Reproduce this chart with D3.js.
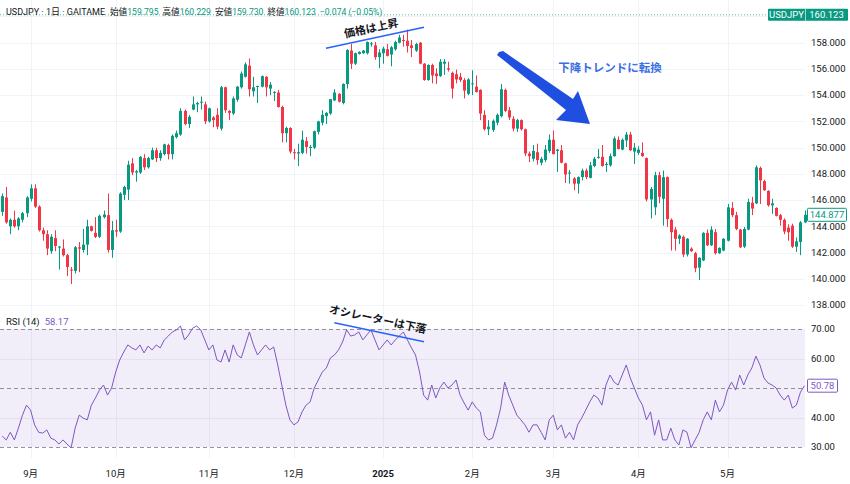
<!DOCTYPE html>
<html><head><meta charset="utf-8">
<script src="https://cdn.jsdelivr.net/npm/d3@7"></script>
<style>
html,body{margin:0;padding:0;background:#fff;}
svg{display:block;font-family:Roboto,"Noto Sans CJK JP",sans-serif;}
</style></head><body><svg id="c" width="850" height="484"></svg>
<script>
// ---- data (OHLC per trading day) ----
const candles = [
[145.1,146.5,144.8,146.3],[146.2,147.0,144.2,144.3],[144.0,144.6,143.4,144.5],[144.5,145.2,143.9,144.0],[144.0,144.7,143.7,144.6],
[144.5,145.1,144.3,145.0],[145.0,146.3,144.7,146.2],[146.1,147.2,145.9,146.9],[146.9,147.2,145.4,145.5],[145.5,145.6,143.6,143.7],
[143.7,143.9,142.9,143.4],[143.4,143.7,141.8,142.3],[142.1,143.4,141.9,143.2],[143.1,143.7,142.1,142.5],[142.4,142.5,140.7,142.45],
[142.3,143.0,141.7,141.8],[141.8,141.9,140.2,140.9],[140.7,140.9,139.6,140.65],[140.6,142.5,140.4,142.4],[142.4,142.8,140.5,142.3],
[142.2,143.8,142.0,142.6],[142.6,144.5,141.8,144.0],[144.0,144.05,143.6,143.65],[143.5,144.7,143.1,143.2],[143.2,144.9,143.1,144.8],
[144.7,145.2,144.6,144.9],[144.85,146.5,142.0,142.2],[142.2,144.4,141.6,143.7],[143.7,144.5,143.2,143.6],[143.6,146.6,143.5,146.5],
[146.4,147.1,146.0,147.0],[146.8,149.0,146.0,148.7],[148.8,149.2,147.9,148.1],[148.1,148.3,147.4,148.2],[148.1,149.35,148.0,149.3],
[149.2,149.5,148.3,148.5],[148.5,149.3,148.4,149.2],[149.1,150.0,149.05,149.8],[149.8,150.0,148.9,149.2],[149.2,149.8,149.0,149.6],
[149.5,150.3,149.4,150.25],[150.2,150.3,149.1,149.5],[149.5,151.0,149.1,150.9],[150.8,151.3,150.7,151.1],[151.0,153.0,150.9,152.8],
[152.8,152.9,151.7,151.8],[151.8,152.5,151.5,152.35],[152.9,153.9,152.85,153.3],[153.3,153.5,152.7,153.4],[153.45,153.9,152.9,153.5],
[153.3,153.5,151.8,152.0],[152.0,153.05,151.9,153.0],[152.3,152.4,151.55,152.1],[152.5,153.0,151.4,151.6],[151.45,154.7,151.3,154.6],
[154.6,154.65,152.65,152.85],[152.8,152.85,152.1,152.65],[152.6,153.9,152.5,153.75],[153.65,154.7,153.5,154.65],[154.6,155.8,154.5,155.65],
[155.4,156.5,155.35,156.35],[156.25,156.8,153.9,154.45],[154.3,155.4,153.9,154.6],[154.65,154.72,153.4,154.7],[154.65,155.5,154.6,155.45],
[155.4,155.45,153.9,154.6],[154.5,155.0,154.0,154.8],[154.2,154.3,153.55,154.25],[154.2,154.4,153.05,153.1],[153.1,153.2,150.4,151.1],
[151.1,151.6,150.4,151.5],[151.5,151.55,149.55,149.7],[149.65,149.9,149.1,149.6],[149.55,150.3,148.6,149.65],[149.6,151.3,149.5,150.6],
[150.5,150.8,149.55,150.05],[150.0,150.2,149.35,150.05],[150.0,151.3,149.9,151.25],[151.2,152.05,151.0,152.0],[151.9,152.85,151.7,152.5],
[152.4,152.7,151.8,152.65],[152.6,153.7,152.5,153.7],[153.6,154.45,153.55,154.2],[154.1,154.15,153.45,153.5],[153.4,154.9,153.3,154.85],
[154.85,157.5,154.5,157.45],[157.4,157.9,156.0,156.4],[156.4,157.25,156.3,157.2],[157.15,157.35,157.1,157.3],[157.2,157.45,157.15,157.4],
[157.2,158.1,157.1,158.05],[157.9,158.05,157.7,157.95],[157.8,158.05,156.7,156.9],[156.9,157.5,156.05,157.25],[157.2,157.7,156.4,157.55],
[157.5,157.9,156.95,157.0],[157.1,157.75,156.2,157.65],[157.5,158.15,157.4,158.05],[158.0,158.6,157.95,158.4],[158.2,158.6,157.7,158.15],
[158.15,159.0,157.25,157.75],[157.8,158.2,156.9,157.6],[157.4,158.0,157.3,157.9],[158.0,158.05,156.35,156.4],[156.4,156.45,155.1,155.15],
[155.15,156.35,155.1,156.3],[156.3,156.4,154.9,155.5],[155.65,156.05,154.85,155.45],[155.45,156.75,155.4,156.55],[156.4,156.75,155.55,156.55],
[156.05,156.55,155.8,155.95],[155.7,155.8,153.75,154.5],[155.6,155.95,154.9,155.2],[155.4,155.7,155.0,155.15],[155.15,155.3,153.75,154.35],
[154.1,155.3,154.0,155.2],[154.85,155.9,154.0,154.9],[154.65,155.5,154.2,154.25],[154.4,154.45,152.1,152.6],[152.5,152.85,151.3,151.4],
[151.4,152.1,150.95,151.6],[151.35,152.15,151.2,152.05],[151.9,152.6,151.7,152.5],[152.4,154.85,152.3,154.45],[154.4,154.5,152.7,152.8],
[152.85,153.1,152.1,152.3],[152.2,152.4,151.25,151.45],[151.45,152.2,151.2,152.1],[152.1,152.15,151.3,151.4],[151.4,151.45,149.35,149.55],
[149.55,149.7,148.9,149.35],[149.15,150.2,148.95,149.75],[149.65,150.3,148.7,149.05],[148.85,149.3,148.65,149.15],[149.05,150.2,148.9,149.85],
[149.75,151.0,149.6,150.6],[150.6,151.3,149.5,149.5],[149.75,149.9,148.15,149.85],[149.8,150.2,148.8,148.85],[148.8,148.85,147.3,147.95],
[148.05,148.3,147.25,148.1],[147.65,147.75,146.75,147.25],[147.25,147.8,146.5,147.75],[147.75,148.4,147.5,148.25],[148.25,148.4,147.6,147.75],
[147.7,148.9,147.65,148.65],[148.6,149.3,148.5,149.15],[149.25,149.9,149.15,149.3],[149.3,150.2,148.55,148.6],[148.7,148.9,148.15,148.75],
[148.65,149.55,148.55,149.35],[149.35,150.85,149.3,150.7],[150.6,150.85,149.85,149.9],[149.85,150.7,149.8,150.6],[150.55,151.2,150.05,151.0],
[151.0,151.2,149.75,149.8],[149.7,150.35,148.75,150.0],[149.6,150.1,149.45,149.85],[149.6,150.4,149.3,149.35],[149.2,149.25,145.9,146.05],
[146.05,147.0,144.6,146.85],[145.45,148.15,144.85,147.9],[147.9,148.15,145.75,146.25],[146.1,148.25,144.05,147.75],[147.75,147.8,143.95,144.55],
[144.5,144.6,142.15,143.55],[143.75,143.95,142.15,143.05],[143.05,143.4,142.65,143.3],[143.2,143.3,141.65,141.85],[141.85,143.1,141.7,143.05],
[142.3,142.4,142.05,142.1],[141.95,142.05,140.5,140.8],[140.85,141.65,139.9,141.6],[141.4,143.55,141.35,143.5],[143.5,143.75,142.5,142.55],
[142.55,144.0,142.5,143.75],[143.55,143.8,141.85,141.95],[141.95,142.4,141.9,142.35],[142.15,143.1,142.1,143.05],[142.9,145.7,142.85,145.45],
[145.4,145.85,144.7,144.85],[144.85,145.1,143.7,143.8],[143.75,143.8,142.35,142.4],[142.45,143.95,142.35,143.8],[143.75,146.1,143.7,145.85],
[145.8,146.25,144.85,145.35],[145.75,148.65,145.7,148.5],[148.45,148.55,145.7,147.5],[147.45,147.55,146.7,146.75],[146.7,146.75,145.5,145.6],
[145.6,146.1,144.95,145.75],[145.4,145.45,144.75,144.8],[144.85,144.95,144.05,144.5],[144.5,144.6,143.4,143.6],[143.9,144.15,142.9,143.55],
[144.05,144.2,142.35,142.45],[142.45,143.15,142.05,142.85],[142.8,144.4,141.8,144.3],[144.3,145.2,144.25,144.877]
];
const rsi = [
33.7,32.4,35,32.4,36.4,40.8,44.2,42.5,37.5,35,34.7,35.8,33,32.4,31,32.4,31,29.7,36.4,40.8,
39.8,39.2,44.2,46.6,49.3,51,47.6,50,55.4,59.5,62.2,64.6,63.6,62.9,64.6,61.9,64.2,62.9,64.6,63.6,
66.3,67.6,69,69.7,71,66.3,68,70.3,71,69.7,66.3,62.9,64.6,59.5,58.8,62.9,58.8,64.6,61.2,60.2,
64.6,69,64.6,61.2,62.9,64.6,62.9,63.9,57.8,51,44.2,39.2,37.5,38.5,41.9,44.2,45.3,50,52.7,55.4,
56.8,60.2,61.2,62.9,65.6,69.7,67.6,68,69,66.3,68,69.7,66.3,62.9,64.6,66.3,64.6,66.3,67.6,69,
66.3,63.6,61.2,55.4,47.6,45.9,51,46.6,50,52,50,51,52.7,47.6,44.9,42.5,45.3,43.2,41.9,34,
32.4,33,37.5,43.2,52,47.6,44.2,40.8,39.2,37.5,35,37.5,37.5,35,32.4,39.2,40.8,35.8,37.5,33,
35,32.4,37.5,39.8,42.5,45.3,47.6,46.6,44.2,51,54.4,52,51,54.4,57.8,53.4,50,46.6,44.2,39.2,
41.9,34,39.2,32.4,32.4,36.4,32.4,30.7,35.8,35,29.7,32.4,35,39.2,41.9,39.2,45.9,41.9,44.2,49.3,
52,49.3,54.4,51,54.4,56.8,60.8,57.8,53.4,51.7,51,50,47.6,45.9,47.6,43.2,44.2,48.6,50.78
];
const priceTicks = [138,140,142,144,146,148,150,152,154,156,158];
const rsiTicks = [30,40,60,70];
const rsiDashed = [30,50,70];
const rsiGrid = [40,60];
const monthIdx = [7,28,51,72,94,116,136,157,179];
const monthLabels = ["9月","10月","11月","12月","2025","2月","3月","4月","5月"];
const headerTitle = "USDJPY · 1日 · GAITAME";
const headerLabels = ["始値","高値","安値","終値"];
const headerValues = ["159.795","160.229","159.730","160.123"];
const headerChange = "−0.074 (−0.05%)";
const lastPrice = 160.123;
const rsiHeaderValue = "58.17";

// ---- drawing ----
const svg = d3.select("#c");
const plotR = 805;
const UP = "#089981", DN = "#f23645", GRID = "#f0f3fa", TXT = "#131722", PURPLE = "#7e57c2";

const x = d3.scaleBand().domain(d3.range(candles.length)).range([0.68, 0.68 + 4.047 * candles.length]).paddingInner(0.25);
const cx = i => x(i) + x.bandwidth() / 2;
const y = d3.scaleLinear().domain([138, 158]).range([305, 42.7]);
const yr = d3.scaleLinear().domain([30, 70]).range([447, 329]);

// vertical grid
svg.append("g").selectAll("line").data(monthIdx).join("line")
  .attr("x1", d => Math.round(cx(d)) + 0.5).attr("x2", d => Math.round(cx(d)) + 0.5)
  .attr("y1", 0).attr("y2", 458).attr("stroke", GRID);
// horizontal price grid
svg.append("g").selectAll("line").data(priceTicks.concat([160])).join("line")
  .attr("x1", 0).attr("x2", plotR).attr("y1", d => Math.round(y(d)) + 0.5).attr("y2", d => Math.round(y(d)) + 0.5)
  .attr("stroke", GRID);

// price axis labels
svg.append("g").selectAll("text").data(priceTicks).join("text")
  .attr("x", 811).attr("y", d => y(d)).attr("dy", "0.35em")
  .attr("font-size", 9.5).attr("fill", TXT).text(d => d3.format(".3f")(d));

// last price dotted line + badge
svg.append("line").attr("x1", 0).attr("x2", 768).attr("y1", y(lastPrice)).attr("y2", y(lastPrice))
  .attr("stroke", UP).attr("stroke-dasharray", "1,2").attr("opacity", 0.7);
svg.append("rect").attr("x", 768).attr("y", y(lastPrice) - 6).attr("width", 80).attr("height", 12).attr("fill", UP).attr("rx", 1);
svg.append("line").attr("x1", 805.5).attr("x2", 805.5).attr("y1", y(lastPrice) - 6).attr("y2", y(lastPrice) + 6).attr("stroke", "#ffffff").attr("opacity", 0.6);
svg.append("text").attr("x", 786.5).attr("y", y(lastPrice)).attr("dy", "0.35em").attr("text-anchor", "middle")
  .attr("font-size", 9.5).attr("fill", "#fff").text("USDJPY");
svg.append("text").attr("x", 826.5).attr("y", y(lastPrice)).attr("dy", "0.35em").attr("text-anchor", "middle")
  .attr("font-size", 9.5).attr("fill", "#fff").text(d3.format(".3f")(lastPrice));

// candles
const cg = svg.append("g");
cg.selectAll("line").data(candles).join("line")
  .attr("x1", (d, i) => Math.round(cx(i)) + 0.5).attr("x2", (d, i) => Math.round(cx(i)) + 0.5)
  .attr("y1", d => y(d[1])).attr("y2", d => y(d[2]))
  .attr("stroke", d => d[3] >= d[0] ? UP : DN).attr("stroke-width", 1);
cg.selectAll("rect").data(candles).join("rect")
  .attr("x", (d, i) => Math.round(cx(i)) - 1).attr("width", 3)
  .attr("y", d => y(Math.max(d[0], d[3])))
  .attr("height", d => Math.max(1, Math.abs(y(d[0]) - y(d[3]))))
  .attr("fill", d => d[3] >= d[0] ? UP : DN);

// last candle close label
const lc = candles[candles.length - 1][3];
svg.append("rect").attr("x", 807.5).attr("y", y(lc) - 6.5).attr("width", 39).attr("height", 13)
  .attr("fill", "#fff").attr("stroke", UP).attr("rx", 1);
svg.append("text").attr("x", 827).attr("y", y(lc)).attr("dy", "0.35em").attr("text-anchor", "middle")
  .attr("font-size", 9.5).attr("fill", UP).text(d3.format(".3f")(lc));

// header (laid out sequentially using measured widths)
let hxPos = 6;
const title = svg.append("text").attr("x", hxPos).attr("y", 12).attr("dy", "0.35em").attr("font-size", 9).attr("fill", TXT).text(headerTitle);
hxPos += title.node().getComputedTextLength() + 5;
headerLabels.forEach((l, k) => {
  const t = svg.append("text").attr("x", hxPos).attr("y", 12).attr("dy", "0.35em").attr("font-size", 8.6).attr("fill", TXT);
  t.append("tspan").text(l);
  t.append("tspan").attr("fill", UP).text(headerValues[k]);
  hxPos += t.node().getComputedTextLength() + 4;
});
svg.append("text").attr("x", hxPos).attr("y", 12).attr("dy", "0.35em").attr("font-size", 8.6).attr("fill", UP).text(headerChange);

// RSI panel
svg.append("rect").attr("x", 0).attr("y", yr(70)).attr("width", plotR).attr("height", yr(30) - yr(70))
  .attr("fill", PURPLE).attr("fill-opacity", 0.1);
svg.append("g").selectAll("line").data(rsiGrid).join("line")
  .attr("x1", 0).attr("x2", plotR).attr("y1", d => Math.round(yr(d)) + 0.5).attr("y2", d => Math.round(yr(d)) + 0.5)
  .attr("stroke", "#e4e0ee");
svg.append("g").selectAll("line").data(rsiDashed).join("line")
  .attr("x1", 0).attr("x2", plotR).attr("y1", d => Math.round(yr(d)) + 0.5).attr("y2", d => Math.round(yr(d)) + 0.5)
  .attr("stroke", "#787b86").attr("stroke-dasharray", "4,3").attr("opacity", 0.8);
svg.append("path").datum(rsi).attr("fill", "none").attr("stroke", PURPLE).attr("stroke-width", 1)
  .attr("d", d3.line().x((d, i) => cx(i)).y(d => yr(d)));
svg.append("g").selectAll("text").data(rsiTicks).join("text")
  .attr("x", 811).attr("y", d => yr(d)).attr("dy", "0.35em")
  .attr("font-size", 9.5).attr("fill", TXT).text(d => d3.format(".2f")(d));
const lr = rsi[rsi.length - 1];
svg.append("rect").attr("x", 807.5).attr("y", yr(lr) - 6.5).attr("width", 30).attr("height", 13)
  .attr("fill", "#fff").attr("stroke", PURPLE).attr("rx", 1);
svg.append("text").attr("x", 822.5).attr("y", yr(lr)).attr("dy", "0.35em").attr("text-anchor", "middle")
  .attr("font-size", 9.5).attr("fill", PURPLE).text(d3.format(".2f")(lr));
const rh = svg.append("text").attr("x", 6).attr("y", 322).attr("dy", "0.35em").attr("font-size", 9.5).attr("fill", TXT);
rh.append("tspan").text("RSI (14)");
rh.append("tspan").attr("dx", 5).attr("fill", PURPLE).text(rsiHeaderValue);

// x axis labels
svg.append("g").selectAll("text").data(monthIdx).join("text")
  .attr("x", d => cx(d)).attr("y", 474).attr("dy", "0.35em").attr("text-anchor", "middle")
  .attr("font-size", 9.5).attr("fill", TXT)
  .attr("font-weight", (d, k) => monthLabels[k] === "2025" ? 700 : 400)
  .text((d, k) => monthLabels[k]);

// ---- annotations ----
const BLUE = "#2962ff";
svg.append("line").attr("x1", 326).attr("y1", 48.3).attr("x2", 424).attr("y2", 27.3).attr("stroke", BLUE).attr("stroke-width", 1.5);
svg.append("text").attr("transform", "translate(372,32) rotate(-12)").attr("text-anchor", "middle")
  .attr("font-size", 11).attr("font-weight", 700).attr("fill", TXT).text("価格は上昇");
svg.append("line").attr("x1", 334.3).attr("y1", 322.7).attr("x2", 424).attr("y2", 341.7).attr("stroke", BLUE).attr("stroke-width", 1.5);
svg.append("text").attr("transform", "translate(377,323) rotate(12)").attr("text-anchor", "middle")
  .attr("font-size", 11).attr("font-weight", 700).attr("fill", TXT).text("オシレーターは下落");
svg.append("polygon")
  .attr("points", "499,52 503,51 573,99 578,91 590,124 556,120 566,110 497,55")
  .attr("fill", "#1f4fe0");
svg.append("text").attr("x", 610).attr("y", 67.5).attr("dy", "0.35em").attr("text-anchor", "middle")
  .attr("font-size", 11.5).attr("font-weight", 700).attr("fill", "#3b6fe3").text("下降トレンドに転換");
</script></body></html>
